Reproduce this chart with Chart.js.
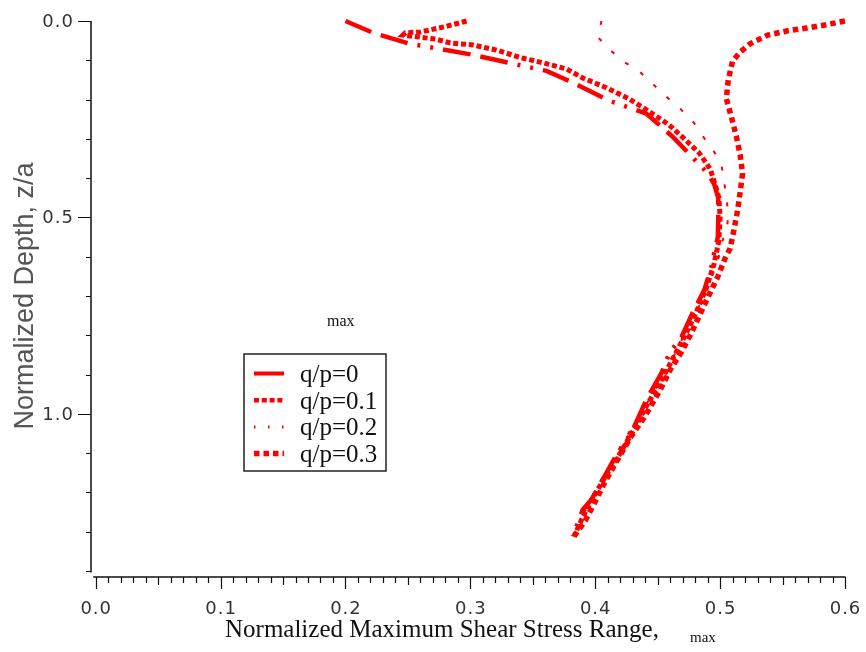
<!DOCTYPE html>
<html>
<head>
<meta charset="utf-8">
<title>Normalized Maximum Shear Stress Range vs Depth</title>
<script src="https://cdn.jsdelivr.net/npm/chart.js@4/dist/chart.umd.min.js"></script>
<style>
  html, body { margin: 0; padding: 0; background: #ffffff; }
  #wrap { position: relative; width: 866px; height: 652px; }
</style>
</head>
<body>
<div id="wrap"><canvas id="chart"></canvas></div>
<script>
// Series labels (traction ratio q/p)
const seriesLabels = ['q/p=0', 'q/p=0.1', 'q/p=0.2', 'q/p=0.3'];

// q/p = 0
const depthQ0 = [0.0, 0.03, 0.058, 0.074, 0.086, 0.107, 0.127, 0.157, 0.203, 0.236, 0.294, 0.386, 0.416, 0.45, 0.5, 0.55, 0.6, 0.627, 0.685, 0.744, 0.805, 0.845, 0.896, 0.964, 1.048, 1.099, 1.15, 1.218, 1.244, 1.312];
const valueQ0 = [0.2, 0.222, 0.2517, 0.2804, 0.302, 0.3316, 0.361, 0.382, 0.4114, 0.441, 0.4618, 0.4897, 0.4953, 0.4985, 0.4985, 0.4982, 0.4945, 0.4929, 0.4873, 0.4778, 0.469, 0.4594, 0.453, 0.441, 0.429, 0.418, 0.409, 0.397, 0.390, 0.382];

// q/p = 0.1
const depthQ1 = [0.0, 0.015, 0.028, 0.03, 0.036, 0.041, 0.046, 0.056, 0.061, 0.074, 0.094, 0.107, 0.122, 0.145, 0.17, 0.198, 0.226, 0.264, 0.299, 0.335, 0.376, 0.416, 0.45, 0.5, 0.56, 0.62, 0.68, 0.74, 0.8, 0.86, 0.92, 0.98, 1.04, 1.1, 1.16, 1.22, 1.27, 1.312];
const valueQ1 = [0.297, 0.279, 0.26, 0.248, 0.246, 0.259, 0.272, 0.284, 0.302, 0.321, 0.341, 0.359, 0.377, 0.39, 0.409, 0.427, 0.441, 0.459, 0.471, 0.483, 0.492, 0.496, 0.499, 0.5, 0.499, 0.495, 0.489, 0.481, 0.472, 0.462, 0.452, 0.441, 0.431, 0.42, 0.408, 0.397, 0.389, 0.383];

// q/p = 0.2
const depthQ2 = [0.0, 0.041, 0.074, 0.104, 0.127, 0.16, 0.193, 0.223, 0.259, 0.297, 0.332, 0.365, 0.404, 0.475, 0.513, 0.548, 0.581, 0.617, 0.66, 0.72, 0.78, 0.84, 0.9, 0.96, 1.02, 1.08, 1.14, 1.2, 1.26, 1.312];
const valueQ2 = [0.405, 0.402, 0.412, 0.423, 0.435, 0.446, 0.457, 0.468, 0.479, 0.487, 0.495, 0.501, 0.503, 0.506, 0.506, 0.503, 0.500, 0.498, 0.492, 0.484, 0.474, 0.465, 0.455, 0.444, 0.432, 0.421, 0.410, 0.399, 0.390, 0.382];

// q/p = 0.3
const depthQ3 = [0.0, 0.01, 0.018, 0.025, 0.036, 0.058, 0.079, 0.102, 0.15, 0.198, 0.244, 0.294, 0.34, 0.388, 0.437, 0.482, 0.533, 0.579, 0.604, 0.652, 0.698, 0.746, 0.794, 0.843, 0.888, 0.939, 1.01, 1.056, 1.127, 1.178, 1.223, 1.272, 1.312];
const valueQ3 = [0.6, 0.584, 0.569, 0.554, 0.538, 0.524, 0.516, 0.51, 0.5065, 0.505, 0.509, 0.513, 0.516, 0.518, 0.516, 0.514, 0.511, 0.508, 0.504, 0.498, 0.491, 0.484, 0.477, 0.469, 0.46, 0.452, 0.439, 0.429, 0.416, 0.407, 0.4, 0.392, 0.383];

// Axis tick labels
const xTickValues = [0.0, 0.1, 0.2, 0.3, 0.4, 0.5, 0.6];
const xTickLabels = ['0.0', '0.1', '0.2', '0.3', '0.4', '0.5', '0.6'];
const yTickValues = [0.0, 0.5, 1.0];
const yTickLabels = ['0.0', '0.5', '1.0'];

// Text
const xTitle = 'Normalized Maximum Shear Stress Range,';
const yTitle = 'Normalized Depth, z/a';
const subText = 'max';

function toPoints(depths, values) {
  return depths.map((d, i) => ({ x: values[i], y: d }));
}

// Line styles per series
const seriesStyles = [
  { width: 4.5, dash: [28, 10, 28, 10, 3, 10, 3, 10] },
  { width: 5, dash: [5, 2.8] },
  { width: 2, dash: [4, 14] },
  { width: 5.5, dash: [5.5, 4] }
];
const legendStyles = [
  { width: 4, dash: [] },
  { width: 4.5, dash: [5, 2.8] },
  { width: 3, dash: [1.5, 12.5] },
  { width: 5.5, dash: [5.5, 4] }
];

const seriesData = [
  toPoints(depthQ0, valueQ0),
  toPoints(depthQ1, valueQ1),
  toPoints(depthQ2, valueQ2),
  toPoints(depthQ3, valueQ3)
];

const RED = '#ff0000';
const INK = '#111111';
const TICK_FONT = '18px "DejaVu Sans", sans-serif';

const decor = {
  id: 'decor',
  afterDraw(chart) {
    const ctx = chart.ctx;
    const xs = chart.scales.x, ys = chart.scales.y;
    const area = chart.chartArea;
    ctx.save();

    // axis lines
    const yAxisX = area.left - 4.7;
    const xAxisY = area.bottom + 6;
    ctx.strokeStyle = INK;
    ctx.lineWidth = 1.5;
    ctx.setLineDash([]);
    ctx.beginPath();
    ctx.moveTo(yAxisX, ys.getPixelForValue(0));
    ctx.lineTo(yAxisX, area.bottom + 1.5);
    ctx.moveTo(area.left - 2.5, xAxisY);
    ctx.lineTo(xs.getPixelForValue(0.6) + 0.5, xAxisY);
    ctx.stroke();

    // y tick marks every 0.1, long at labelled values
    ctx.lineWidth = 1.2;
    ctx.beginPath();
    for (let i = 0; i <= 14; i++) {
      const py = Math.round(ys.getPixelForValue(i / 10)) + 0.5;
      const major = (i % 5 === 0) && i <= 10;
      const len = major ? 13 : 5;
      ctx.moveTo(yAxisX - len, py);
      ctx.lineTo(yAxisX, py);
    }
    ctx.stroke();

    // x tick marks every 0.01
    ctx.beginPath();
    for (let i = 0; i <= 60; i++) {
      const px = Math.round(xs.getPixelForValue(i / 100)) + 0.5;
      const len = (i % 10 === 0) ? 12 : (i % 5 === 0 ? 8 : 6);
      ctx.moveTo(px, xAxisY);
      ctx.lineTo(px, xAxisY + len);
    }
    ctx.stroke();

    // tick labels
    ctx.fillStyle = '#333333';
    ctx.font = TICK_FONT;
    if ('letterSpacing' in ctx) ctx.letterSpacing = '1px';
    ctx.textBaseline = 'middle';
    ctx.textAlign = 'center';
    xTickValues.forEach((v, i) => {
      ctx.fillText(xTickLabels[i], xs.getPixelForValue(v) + 0.5, 609);
    });
    ctx.textAlign = 'right';
    yTickValues.forEach((v, i) => {
      ctx.fillText(yTickLabels[i], 74, ys.getPixelForValue(v) + 1);
    });
    if ('letterSpacing' in ctx) ctx.letterSpacing = '0px';

    // axis titles
    ctx.fillStyle = INK;
    ctx.textAlign = 'left';
    ctx.textBaseline = 'alphabetic';
    ctx.font = '25px "Liberation Serif", "Times New Roman", serif';
    ctx.fillText(xTitle, 225, 637);
    ctx.font = '15px "Liberation Serif", "Times New Roman", serif';
    ctx.fillText(subText, 690, 642);
    ctx.font = '16px "Liberation Serif", "Times New Roman", serif';
    ctx.fillText(subText, 327, 326);

    ctx.save();
    ctx.translate(33, 296);
    ctx.rotate(-Math.PI / 2);
    ctx.textAlign = 'center';
    ctx.fillStyle = '#555555';
    ctx.font = '27px "Liberation Sans", Arial, sans-serif';
    ctx.fillText(yTitle, 0, 0);
    ctx.restore();

    // legend box
    const bx = 244, by = 354, bw = 142, bh = 117;
    ctx.fillStyle = '#ffffff';
    ctx.fillRect(bx, by, bw, bh);
    ctx.strokeStyle = '#222222';
    ctx.lineWidth = 1.5;
    ctx.strokeRect(bx, by, bw, bh);
    ctx.font = '25px "Liberation Serif", "Times New Roman", serif';
    ctx.textAlign = 'left';
    ctx.textBaseline = 'alphabetic';
    seriesLabels.forEach((lab, i) => {
      const base = 382 + i * 26.7;
      const ly = base - 8.5;
      const st = legendStyles[i];
      ctx.strokeStyle = RED;
      ctx.lineWidth = st.width;
      ctx.lineCap = 'butt';
      ctx.setLineDash(st.dash);
      ctx.beginPath();
      ctx.moveTo(254, ly);
      ctx.lineTo(284, ly);
      ctx.stroke();
      ctx.setLineDash([]);
      ctx.fillStyle = INK;
      ctx.fillText(lab, 300, base);
    });

    ctx.restore();
  }
};

new Chart(document.getElementById('chart'), {
  type: 'scatter',
  data: {
    datasets: seriesLabels.map((lab, i) => ({
      label: lab,
      data: seriesData[i],
      showLine: true,
      borderColor: RED,
      backgroundColor: RED,
      borderWidth: seriesStyles[i].width,
      borderDash: seriesStyles[i].dash,
      borderCapStyle: 'butt',
      borderJoinStyle: 'miter',
      pointRadius: 0,
      pointHoverRadius: 0,
      tension: 0,
      clip: false
    }))
  },
  options: {
    responsive: true,
    maintainAspectRatio: false,
    animation: false,
    events: [],
    layout: { padding: { left: 0, top: 21, right: 21, bottom: 0 } },
    plugins: {
      legend: { display: false },
      tooltip: { enabled: false },
      title: { display: false }
    },
    scales: {
      x: {
        type: 'linear',
        min: 0,
        max: 0.6,
        grid: { display: false, drawTicks: false },
        border: { display: false },
        ticks: { display: false, stepSize: 0.1 },
        afterFit: (s) => { s.height = 81; }
      },
      y: {
        type: 'linear',
        reverse: true,
        min: 0,
        max: 1.4,
        grid: { display: false, drawTicks: false },
        border: { display: false },
        ticks: { display: false, stepSize: 0.1 },
        afterFit: (s) => { s.width = 95.7; }
      }
    }
  },
  plugins: [decor]
});
</script>
</body>
</html>
